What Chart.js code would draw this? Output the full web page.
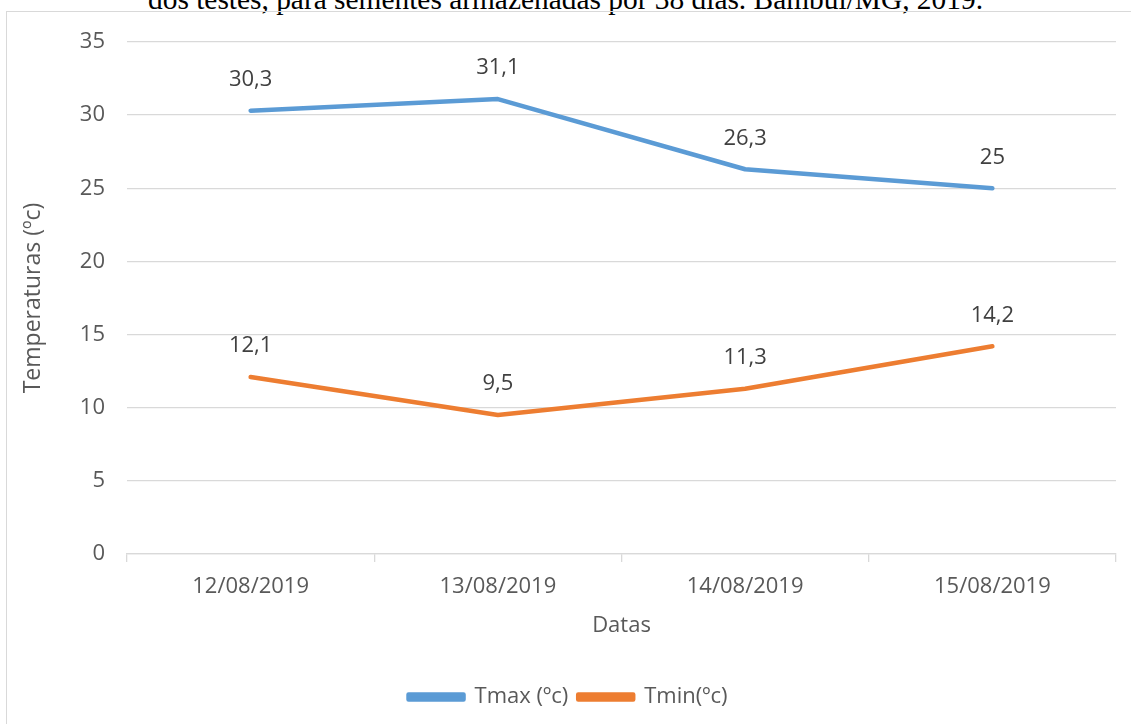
<!DOCTYPE html>
<html>
<head>
<meta charset="utf-8">
<script src="https://cdn.jsdelivr.net/npm/chart.js@4.4.1/dist/chart.umd.min.js"></script>
<style>
  html, body { margin: 0; padding: 0; background: #fff; overflow: hidden; }
  #caption {
    position: absolute; left: 0; top: -15px; width: 1131px;
    text-align: center; font: 29.4px/1 "Liberation Serif", "Times New Roman", serif;
    color: #000; white-space: nowrap;
  }
  #frame {
    position: absolute; left: 6px; top: 11px; width: 1200px; height: 800px;
    border: 1.5px solid #d9d9d9; box-sizing: border-box;
  }
  #wrap { position: absolute; left: 0; top: 0; width: 1131px; height: 724px; }
</style>
</head>
<body>
<div id="caption">dos testes, para sementes armazenadas por 38 dias. Bambuí/MG, 2019.</div>
<div id="frame"></div>
<div id="wrap"><canvas id="chart"></canvas></div>
<script>
const dates = ["12/08/2019", "13/08/2019", "14/08/2019", "15/08/2019"]
const tmax = [30.3, 31.1, 26.3, 25]
const tmin = [12.1, 9.5, 11.3, 14.2]
const yTicks = [0, 5, 10, 15, 20, 25, 30, 35]

const COLOR_MAX = "#5B9BD5"
const COLOR_MIN = "#ED7D31"
const COLOR_TEXT = "#595959"
const COLOR_LABEL = "#404040"
const COLOR_GRID = "#d9d9d9"
const FONT_FAMILY = "'Open Sans', sans-serif"
const FONT_SIZE = 22

// value labels above each point, Excel style (decimal comma)
const valueLabels = {
  id: "valueLabels",
  afterDatasetsDraw(chart) {
    const ctx = chart.ctx
    ctx.save()
    ctx.font = `${FONT_SIZE}px ${FONT_FAMILY}`
    ctx.fillStyle = COLOR_LABEL
    ctx.textAlign = "center"
    ctx.textBaseline = "middle"
    chart.data.datasets.forEach((ds, i) => {
      chart.getDatasetMeta(i).data.forEach((pt, j) => {
        ctx.fillText(String(ds.data[j]).replace(".", ","), pt.x, pt.y - 31)
      })
    })
    ctx.restore()
  },
}

new Chart(document.getElementById("chart"), {
  type: "line",
  data: {
    labels: dates,
    datasets: [
      {
        label: "Tmax (ºc)",
        data: tmax,
        borderColor: COLOR_MAX,
        backgroundColor: COLOR_MAX,
        borderWidth: 4.5,
        borderCapStyle: "round",
        borderJoinStyle: "round",
        pointRadius: 0,
        tension: 0,
      },
      {
        label: "Tmin(ºc)",
        data: tmin,
        borderColor: COLOR_MIN,
        backgroundColor: COLOR_MIN,
        borderWidth: 4.5,
        borderCapStyle: "round",
        borderJoinStyle: "round",
        pointRadius: 0,
        tension: 0,
      },
    ],
  },
  options: {
    responsive: true,
    maintainAspectRatio: false,
    animation: false,
    layout: { padding: { left: 20, right: 15, top: 42, bottom: 6 } },
    scales: {
      x: {
        offset: true,
        grid: { offset: true, drawOnChartArea: false, drawTicks: true, tickLength: 8, color: COLOR_GRID, lineWidth: 1.3 },
        border: { color: COLOR_GRID, width: 1.3 },
        ticks: { color: COLOR_TEXT, font: { family: FONT_FAMILY, size: FONT_SIZE }, padding: 12, maxRotation: 0 },
        title: { display: true, text: "Datas", color: COLOR_TEXT, font: { family: FONT_FAMILY, size: FONT_SIZE }, padding: { top: 4, bottom: 37 } },
        afterFit: (s) => { s.height = 122 },
      },
      y: {
        min: 0,
        max: 35,
        afterBuildTicks: (s) => { s.ticks = yTicks.map((v) => ({ value: v })) },
        grid: { drawTicks: false, color: COLOR_GRID, lineWidth: 1.3 },
        border: { display: false },
        ticks: { color: COLOR_TEXT, font: { family: FONT_FAMILY, size: FONT_SIZE }, padding: 22 },
        title: { display: true, text: "Temperaturas (ºc)", color: COLOR_TEXT, font: { family: FONT_FAMILY, size: 23 }, padding: { top: 0, bottom: 0 } },
        afterFit: (s) => { s.width = 107 },
      },
    },
    plugins: {
      legend: {
        position: "bottom",
        labels: { boxWidth: 55, boxHeight: 5, color: COLOR_TEXT, font: { family: FONT_FAMILY, size: FONT_SIZE }, padding: 10 },
      },
      tooltip: { enabled: false },
    },
  },
  plugins: [valueLabels],
})
</script>
</body>
</html>
